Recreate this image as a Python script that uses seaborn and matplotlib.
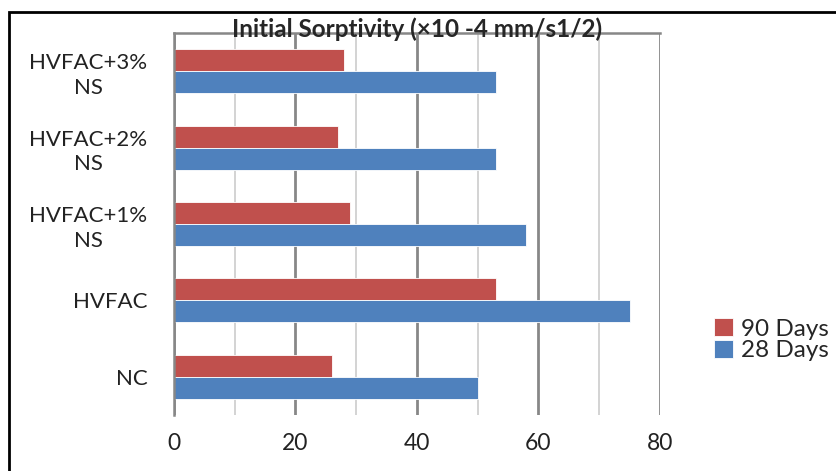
import pandas as pd
import matplotlib.pyplot as plt
import seaborn as sns
from matplotlib.patches import Rectangle
from matplotlib.ticker import MultipleLocator

# dados (de cima para baixo)
categories = ["HVFAC+3%\nNS", "HVFAC+2%\nNS", "HVFAC+1%\nNS", "HVFAC", "NC"]
days_90 = [28, 27, 29, 53, 26]
days_28 = [53, 53, 58, 75, 50]
series = ["90 Days", "28 Days"]
colors = ["#C0504D", "#4F81BD"]

df = pd.DataFrame({
    "mix": categories * 2,
    "value": days_90 + days_28,
    "age": [series[0]] * len(categories) + [series[1]] * len(categories),
})

sns.set_style("white")
plt.rcParams["font.family"] = ["Lato", "DejaVu Sans"]

fig = plt.figure(figsize=(8.37, 4.71), dpi=100)
ax = fig.add_axes([174 / 837, 1 - 415 / 471, (660 - 174) / 837, (415 - 33) / 471])

sns.barplot(data=df, y="mix", x="value", hue="age", hue_order=series,
            palette=colors, orient="h", width=0.576, ax=ax,
            edgecolor="white", linewidth=0.6, saturation=1)

ax.set_xlim(0, 80)
ax.set_ylim(4.5, -0.5)
ax.xaxis.set_major_locator(MultipleLocator(20))
ax.xaxis.set_minor_locator(MultipleLocator(10))
ax.grid(True, axis="x", which="major", color="#878787", linewidth=2)
ax.grid(True, axis="x", which="minor", color="#D0D0D0", linewidth=1.3)
ax.set_axisbelow(True)

# eixo de categorias com marcas entre grupos
ax.set_yticks(range(len(categories)))
ax.set_yticklabels(categories, fontsize=16, color="#222222", linespacing=1.3)
for lbl in ax.get_yticklabels():
    lbl.set_multialignment("center")
ax.set_yticks([i + 0.5 for i in range(-1, len(categories))], minor=True)
ax.tick_params(axis="y", which="major", length=0, pad=19)
ax.tick_params(axis="y", which="minor", length=8, width=1.5, color="#878787", direction="out")
ax.tick_params(axis="x", which="both", length=0, labelsize=16.5, labelcolor="#222222", pad=13)

for s in ["right", "bottom"]:
    ax.spines[s].set_visible(False)
for s in ["left", "top"]:
    ax.spines[s].set_color("#878787")
    ax.spines[s].set_linewidth(1.8)

ax.set_xlabel("")
ax.set_ylabel("")
ax.set_title("Initial Sorptivity (×10 -4 mm/s1/2)", fontsize=17.5, fontweight="bold", pad=-3)

handles, labels = ax.get_legend_handles_labels()
ax.legend(handles, labels, loc="center left", bbox_to_anchor=(1.087, 0.197),
          frameon=False, fontsize=17.5, handlelength=0.75, handleheight=0.75,
          handletextpad=0.35, labelspacing=0.0, borderpad=0)

# moldura externa
fig.patches.append(Rectangle((9 / 837, -0.1), 2, 1.1 - 12 / 471,
                             transform=fig.transFigure, fill=False,
                             edgecolor="black", linewidth=2))

plt.savefig("out.png", dpi=100)
